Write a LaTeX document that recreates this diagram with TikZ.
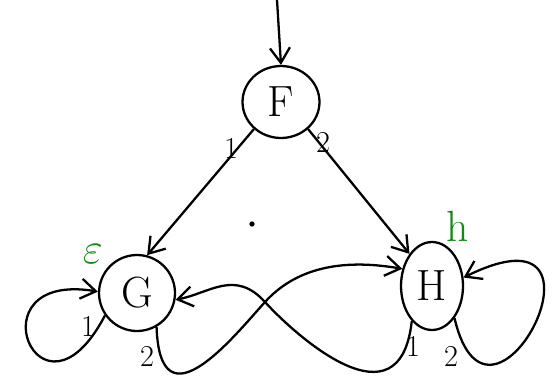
\documentclass[tikz,border=0pt]{standalone}
\usepackage{amsmath, amssymb}
\usepackage{xcolor}
\usepackage{tikz}
\usetikzlibrary{calc, shapes.geometric, arrows.meta}

\definecolor{inkgreen}{RGB}{20,135,20}

\begin{document}
\begin{tikzpicture}[>={Straight Barb[length=3mm,width=4mm]}, x=0.02cm, y=-0.02cm,
    line width=1.3pt,
    state/.style={draw, ellipse, inner sep=0pt, font=\Huge},
    lbl/.style={font=\LARGE},
    greenlbl/.style={text=inkgreen, font=\Huge}]
    \useasboundingbox (0,0) rectangle (557,379);

    % Trạng thái
    \node[state, minimum width=1.54cm, minimum height=1.44cm] (F) at (281,102) {F};
    \node[state, minimum width=1.52cm, minimum height=1.52cm] (G) at (137,293) {G};
    \node[state, minimum width=1.24cm, minimum height=1.76cm] (H) at (432,286) {H};

    % Mũi tên vào
    \coordinate (start) at (277,0);
    \draw[->] (start) -- (F.north);

    % F -> G, F -> H
    \draw[->] (F.225) -- (G.75);
    \draw[->] (F.-45) -- (H.125);

    % Vòng lặp
    \draw[->] (G.215) .. controls (40,440) and (-30,270) .. (G.178);
    \draw[->] (H.-55) .. controls (490,470) and (630,195) .. (H.15);

    % Hai cung cắt nhau
    \coordinate (cross) at (265,302);
    \draw[->] (G.-60) .. controls (160,430) and (235,335) .. (cross)
        .. controls (295,269) and (340,258) .. (H.150);
    \draw[->] (H.240) .. controls (400,430) and (295,335) .. (cross)
        .. controls (235,269) and (210,293) .. (G.-10);

    % Nhãn
    \node[lbl] (l1) at (231,148) {1};
    \node[lbl] (l2) at (323,142) {2};
    \node[lbl] (l3) at (88,326) {1};
    \node[lbl] (l4) at (147,356) {2};
    \node[lbl] (l5) at (413,346) {1};
    \node[lbl] (l6) at (451,356) {2};
    \node[greenlbl] (eps) at (93,254) {$\varepsilon$};
    \node[greenlbl] (hh) at (458,226) {h};
    \fill (252,224) circle (1.5pt);
\end{tikzpicture}
\end{document}
